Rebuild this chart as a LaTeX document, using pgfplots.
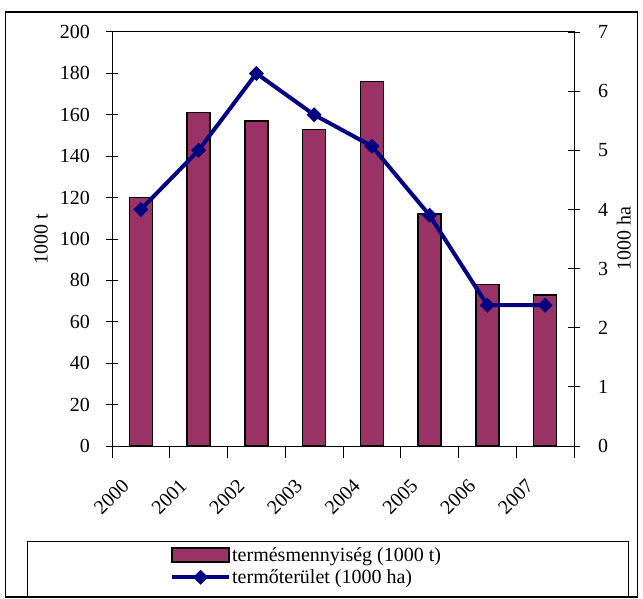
\documentclass[border=0pt]{standalone}
\usepackage{fontspec}
\setmainfont{Liberation Serif}
\usepackage{pgfplots}
\pgfplotsset{compat=1.18}
\definecolor{plum}{HTML}{993366}
\definecolor{navyline}{HTML}{000080}
\newcommand{\chartfont}{\fontsize{20}{24}\selectfont}

\pgfplotsset{
  barlegend/.style={legend image code/.code={\draw[##1] (0pt,-7pt) rectangle (57pt,7pt);}},
  linelegend/.style={legend image code/.code={\draw[mark repeat=2,mark phase=2,##1] plot coordinates {(0pt,0pt) (28.5pt,0pt) (57pt,0pt)};}},
  common/.style={
    scale only axis, width=462pt, height=414pt,
    xmin=-0.5, xmax=7.5,
    tick align=center, major tick length=12pt, minor tick length=12pt,
    axis line style={line width=1pt},
    every tick/.style={black, line width=1pt},
    tick label style={font=\chartfont},
    label style={font=\chartfont},
    /pgf/number format/assume math mode=true,
  },
}

\begin{document}
\begin{tikzpicture}[x=1pt,y=1pt]
\useasboundingbox (0,0) rectangle (643,598);
\draw[line width=1.2pt] (5.5,1) rectangle (637.5,586);

% bars: termesmennyiseg (1000 t)
\begin{axis}[common,
  at={(112pt,152pt)}, anchor=south west,
  ybar, bar width=23pt,
  ymin=0, ymax=200, ytick={0,20,...,200},
  ytick pos=left, xtick pos=bottom,
  xtick={0,...,7},
  xticklabels={2000,2001,2002,2003,2004,2005,2006,2007},
  major x tick style={draw=none},
  minor xtick={-0.5,0.5,...,7.5},
  xticklabel style={xshift=-20pt, yshift=-20pt, rotate=45, anchor=north east, inner sep=0pt},
  yticklabel style={inner sep=0pt, anchor=east, xshift=-16pt},
  ylabel={1000 t},
  ylabel style={at={(axis description cs:-0.1537,0.5)}, anchor=center},
]
\addplot[fill=plum, draw=black, line width=1.5pt] coordinates {
  (0,120) (1,161) (2,157) (3,153) (4,176) (5,112) (6,78) (7,73)
};
\end{axis}

% line: termoterulet (1000 ha)
\begin{axis}[common,
  at={(112pt,152pt)}, anchor=south west,
  ymin=0, ymax=7, ytick={0,...,7},
  axis x line=none, axis y line*=right,
  yticklabel style={inner sep=0pt, anchor=west, xshift=18pt},
  ylabel={1000 ha},
  ylabel style={at={(axis description cs:1.108,0.5)}, anchor=center},
  legend style={at={(axis description cs:0.1255,-0.29)}, anchor=west,
    draw=none, fill=none, font=\chartfont, row sep=5pt, inner sep=0pt,
    nodes={inner ysep=1pt, inner xsep=1pt}},
  legend cell align=left,
]
\addlegendimage{barlegend, fill=plum, draw=black, line width=1.5pt}
\addlegendentry{termésmennyiség (1000 t)}
\addplot[linelegend, navyline, line width=4pt, mark=square*, mark size=4.8pt,
  mark options={rotate=45, line width=1pt}] coordinates {
  (0,4.0) (1,5.0) (2,6.3) (3,5.6) (4,5.07) (5,3.9) (6,2.38) (7,2.38)
};
\addlegendentry{termőterület (1000 ha)}
\end{axis}

\draw[line width=1pt] (27,2) rectangle (628,57);
\end{tikzpicture}
\end{document}
